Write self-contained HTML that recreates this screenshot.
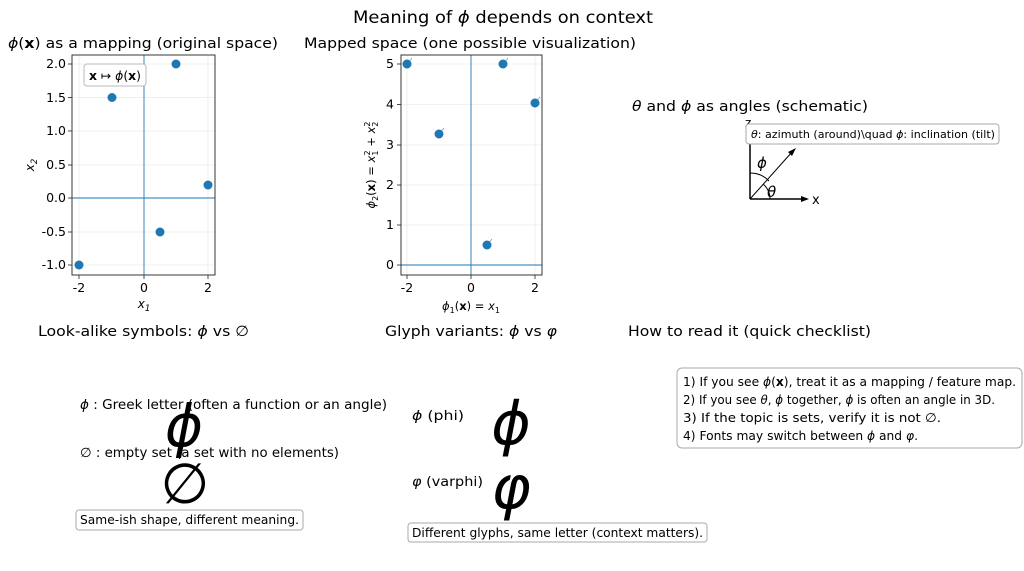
<!DOCTYPE html>
<html><head><meta charset="utf-8"><style>
html,body{margin:0;padding:0;background:#fff;}
svg{display:block;font-family:"DejaVu Sans","Liberation Sans",sans-serif;}
.i{font-style:italic;}
</style></head><body>
<svg width="1024" height="571" viewBox="0 0 1024 571" xmlns="http://www.w3.org/2000/svg">
<rect width="1024" height="571" fill="#fff"/>
<text x="503" y="23" font-size="16.5" text-anchor="middle" textLength="300" lengthAdjust="spacingAndGlyphs">Meaning of <tspan class="i">ϕ</tspan> depends on context</text>

<!-- Plot 1 -->
<text x="8" y="48" font-size="14.5" textLength="270" lengthAdjust="spacingAndGlyphs"><tspan class="i">ϕ</tspan>(<tspan font-weight="bold">x</tspan>) as a mapping (original space)</text>
<g stroke="#ebebeb" stroke-width="0.8">
<line x1="79" y1="55" x2="79" y2="275"/><line x1="208" y1="55" x2="208" y2="275"/>
<line x1="72" y1="64" x2="215" y2="64"/><line x1="72" y1="97.5" x2="215" y2="97.5"/><line x1="72" y1="131" x2="215" y2="131"/><line x1="72" y1="165" x2="215" y2="165"/><line x1="72" y1="232" x2="215" y2="232"/><line x1="72" y1="265" x2="215" y2="265"/>
</g>
<line x1="144" y1="55" x2="144" y2="275" stroke="#1f77b4" stroke-width="0.9"/>
<line x1="72" y1="198" x2="215" y2="198" stroke="#1f77b4" stroke-width="0.9"/>
<rect x="72" y="55" width="143" height="220" fill="none" stroke="#222" stroke-width="0.9"/>
<g fill="#1f77b4"><circle cx="79" cy="265" r="4.5"/><circle cx="112" cy="97.5" r="4.5"/><circle cx="176" cy="64" r="4.5"/><circle cx="208" cy="185" r="4.5"/><circle cx="160" cy="232" r="4.5"/></g>
<rect x="84" y="64" width="62" height="22" rx="3" fill="#fff" stroke="#bbb"/>
<text x="89" y="80" font-size="12" textLength="52" lengthAdjust="spacingAndGlyphs"><tspan font-weight="bold">x</tspan> ↦ <tspan class="i">ϕ</tspan>(<tspan font-weight="bold">x</tspan>)</text>
<g font-size="12.5" text-anchor="end">
<text x="66" y="68">2.0</text><text x="66" y="102">1.5</text><text x="66" y="135">1.0</text><text x="66" y="169">0.5</text><text x="66" y="202">0.0</text><text x="66" y="236">-0.5</text><text x="66" y="269">-1.0</text>
</g>
<g stroke="#222" stroke-width="0.8"><line x1="68" y1="64" x2="72" y2="64"/><line x1="68" y1="97.5" x2="72" y2="97.5"/><line x1="68" y1="131" x2="72" y2="131"/><line x1="68" y1="165" x2="72" y2="165"/><line x1="68" y1="198" x2="72" y2="198"/><line x1="68" y1="232" x2="72" y2="232"/><line x1="68" y1="265" x2="72" y2="265"/>
<line x1="79" y1="275" x2="79" y2="279"/><line x1="144" y1="275" x2="144" y2="279"/><line x1="208" y1="275" x2="208" y2="279"/></g>
<g font-size="12.5" text-anchor="middle"><text x="79" y="292">-2</text><text x="144" y="292">0</text><text x="208" y="292">2</text></g>
<text x="144" y="308" font-size="12" text-anchor="middle" class="i">x<tspan font-size="8.5" dy="3">1</tspan></text>
<text transform="translate(34,165) rotate(-90)" font-size="12" text-anchor="middle" class="i">x<tspan font-size="8.5" dy="3">2</tspan></text>

<!-- Plot 2 -->
<text x="304" y="48" font-size="14.5" textLength="332" lengthAdjust="spacingAndGlyphs">Mapped space (one possible visualization)</text>
<g stroke="#ebebeb" stroke-width="0.8">
<line x1="407" y1="55" x2="407" y2="275"/><line x1="535" y1="55" x2="535" y2="275"/>
<line x1="401" y1="64" x2="542" y2="64"/><line x1="401" y1="104.5" x2="542" y2="104.5"/><line x1="401" y1="145" x2="542" y2="145"/><line x1="401" y1="185" x2="542" y2="185"/><line x1="401" y1="225" x2="542" y2="225"/>
</g>
<line x1="471" y1="55" x2="471" y2="275" stroke="#1f77b4" stroke-width="0.9"/>
<line x1="401" y1="265" x2="542" y2="265" stroke="#1f77b4" stroke-width="0.9"/>
<rect x="401" y="55" width="141" height="220" fill="none" stroke="#222" stroke-width="0.9"/>
<g stroke="#999" stroke-width="0.8"><line x1="407" y1="64" x2="412" y2="58"/><line x1="439" y1="134" x2="444" y2="128"/><line x1="503" y1="64" x2="508" y2="58"/><line x1="535" y1="103" x2="540" y2="97"/><line x1="487" y1="245" x2="492" y2="239"/></g>
<g fill="#1f77b4"><circle cx="407" cy="64" r="4.5"/><circle cx="439" cy="134" r="4.5"/><circle cx="503" cy="64" r="4.5"/><circle cx="535" cy="103" r="4.5"/><circle cx="487" cy="245" r="4.5"/></g>
<g font-size="12.5" text-anchor="end">
<text x="394" y="68">5</text><text x="394" y="108.5">4</text><text x="394" y="149">3</text><text x="394" y="189">2</text><text x="394" y="229">1</text><text x="394" y="269">0</text>
</g>
<g stroke="#222" stroke-width="0.8"><line x1="397" y1="64" x2="401" y2="64"/><line x1="397" y1="104.5" x2="401" y2="104.5"/><line x1="397" y1="145" x2="401" y2="145"/><line x1="397" y1="185" x2="401" y2="185"/><line x1="397" y1="225" x2="401" y2="225"/><line x1="397" y1="265" x2="401" y2="265"/>
<line x1="407" y1="275" x2="407" y2="279"/><line x1="471" y1="275" x2="471" y2="279"/><line x1="535" y1="275" x2="535" y2="279"/></g>
<g font-size="12.5" text-anchor="middle"><text x="407" y="292">-2</text><text x="471" y="292">0</text><text x="535" y="292">2</text></g>
<text x="471" y="310" font-size="11.5" text-anchor="middle"><tspan class="i">ϕ</tspan><tspan font-size="8" dy="3">1</tspan><tspan dy="-3">(</tspan><tspan font-weight="bold">x</tspan>) = <tspan class="i">x</tspan><tspan font-size="8" dy="3">1</tspan></text>
<text transform="translate(375,165) rotate(-90)" font-size="11.5" text-anchor="middle"><tspan class="i">ϕ</tspan><tspan font-size="8" dy="3">2</tspan><tspan dy="-3">(</tspan><tspan font-weight="bold">x</tspan>) = <tspan class="i">x</tspan><tspan font-size="8" dy="3">1</tspan><tspan font-size="8" dx="-5" dy="-8">2</tspan><tspan dy="5"> + </tspan><tspan class="i">x</tspan><tspan font-size="8" dy="3">2</tspan><tspan font-size="8" dx="-5" dy="-8">2</tspan></text>

<!-- Angles -->
<text x="632" y="111" font-size="14.5" textLength="236" lengthAdjust="spacingAndGlyphs"><tspan class="i">θ</tspan> and <tspan class="i">ϕ</tspan> as angles (schematic)</text>
<text x="745" y="127" font-size="12">z</text>
<line x1="750" y1="199" x2="750" y2="124" stroke="#000" stroke-width="1.5"/>
<line x1="750" y1="199" x2="803" y2="199" stroke="#000" stroke-width="1.5"/>
<polygon points="809,199 801,196 801,202" fill="#000"/>
<text x="812" y="204" font-size="13">x</text>
<line x1="750" y1="199" x2="792" y2="152" stroke="#000" stroke-width="1"/>
<polygon points="796,148 788,152 792,156" fill="#000"/>
<path d="M750,173 A26,26 0 0 1 769,181" fill="none" stroke="#000" stroke-width="1"/>
<path d="M770,199 A20,20 0 0 0 763,184" fill="none" stroke="#000" stroke-width="1"/>
<text x="757" y="168" font-size="15" class="i">ϕ</text>
<text x="767" y="197" font-size="15" class="i">θ</text>
<rect x="746" y="124" width="253" height="20" rx="3" fill="#fff" stroke="#aaa"/>
<text x="751" y="138" font-size="11" textLength="244" lengthAdjust="spacingAndGlyphs"><tspan class="i">θ</tspan>: azimuth (around)\quad <tspan class="i">ϕ</tspan>: inclination (tilt)</text>

<!-- Bottom headings -->
<text x="38" y="336" font-size="14.5" textLength="211" lengthAdjust="spacingAndGlyphs">Look-alike symbols: <tspan class="i">ϕ</tspan> vs ∅</text>
<text x="385" y="336" font-size="14.5" textLength="172" lengthAdjust="spacingAndGlyphs">Glyph variants: <tspan class="i">ϕ</tspan> vs <tspan class="i">φ</tspan></text>
<text x="628" y="336" font-size="14.5" textLength="243" lengthAdjust="spacingAndGlyphs">How to read it (quick checklist)</text>

<!-- Look-alike -->
<text x="80" y="409" font-size="13" textLength="307" lengthAdjust="spacingAndGlyphs"><tspan class="i">ϕ</tspan>  : Greek letter (often a function or an angle)</text>
<text x="80" y="457" font-size="13" textLength="259" lengthAdjust="spacingAndGlyphs">∅ : empty set (a set with no elements)</text>
<text x="184" y="446" font-size="58" class="i" text-anchor="middle">ϕ</text>
<text x="185" y="503" font-size="56" text-anchor="middle">∅</text>
<rect x="76" y="510" width="227" height="20" rx="3" fill="#fff" stroke="#aaa"/>
<text x="80" y="524" font-size="12.5" textLength="219" lengthAdjust="spacingAndGlyphs">Same-ish shape, different meaning.</text>

<!-- Glyph variants -->
<text x="412" y="420" font-size="13.5" textLength="52" lengthAdjust="spacingAndGlyphs"><tspan class="i">ϕ</tspan>  (phi)</text>
<text x="412" y="486" font-size="13.5" textLength="71" lengthAdjust="spacingAndGlyphs"><tspan class="i">φ</tspan> (varphi)</text>
<text x="511" y="444" font-size="60" class="i" text-anchor="middle">ϕ</text>
<text x="511" y="508" font-size="60" class="i" text-anchor="middle">φ</text>
<rect x="408" y="523" width="299" height="19" rx="3" fill="#fff" stroke="#aaa"/>
<text x="412" y="537" font-size="12.5" textLength="291" lengthAdjust="spacingAndGlyphs">Different glyphs, same letter (context matters).</text>

<!-- Checklist -->
<rect x="677" y="368" width="345" height="80" rx="5" fill="#fff" stroke="#aaa"/>
<g font-size="12.5">
<text x="683" y="386" textLength="333" lengthAdjust="spacingAndGlyphs">1) If you see <tspan class="i">ϕ</tspan>(<tspan font-weight="bold">x</tspan>), treat it as a mapping / feature map.</text>
<text x="683" y="404" textLength="312" lengthAdjust="spacingAndGlyphs">2) If you see <tspan class="i">θ</tspan>, <tspan class="i">ϕ</tspan> together, <tspan class="i">ϕ</tspan> is often an angle in 3D.</text>
<text x="683" y="422" textLength="258" lengthAdjust="spacingAndGlyphs">3) If the topic is sets, verify it is not ∅.</text>
<text x="683" y="440" textLength="235" lengthAdjust="spacingAndGlyphs">4) Fonts may switch between <tspan class="i">ϕ</tspan> and <tspan class="i">φ</tspan>.</text>
</g>
</svg>
</body></html>
